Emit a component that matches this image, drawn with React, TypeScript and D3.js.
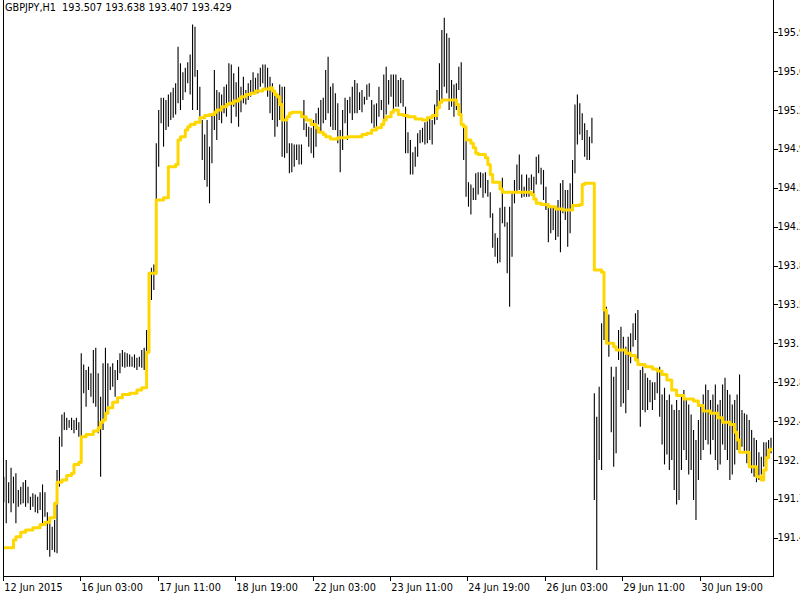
import * as d3 from 'd3';

// header line of the chart window
const chartTitle = 'GBPJPY,H1  193.507 193.638 193.407 193.429';

// hourly bars, high and low
const barHigh = [
  191.95, 192.10, 191.90, 192.03, 191.95, 191.98, 191.83, 191.86, 191.90, 191.92,
  191.86, 191.77, 191.80, 191.79, 191.77, 191.81, 191.88, 191.81, 191.63, 191.53,
  191.50, 191.56, 192.01, 192.31, 192.51, 192.53, 192.48, 192.46, 192.48, 192.46,
  192.48, 192.44, 193.06, 192.96, 192.91, 192.94, 192.88, 193.09, 193.11, 192.88,
  192.67, 192.97, 193.11, 192.97, 192.94, 192.97, 192.91, 193.00, 193.06, 193.09,
  193.07, 193.06, 193.05, 193.03, 193.05, 193.02, 193.03, 193.09, 193.11, 193.27,
  193.77, 193.83, 193.86, 194.95, 195.25, 195.36, 195.36, 195.34, 195.39, 195.41,
  195.45, 195.49, 195.82, 195.67, 195.59, 195.63, 195.68, 195.75, 196.02, 196.00,
  195.61, 195.46, 195.16, 195.03, 195.16, 194.92, 195.22, 195.61, 195.43, 195.41,
  195.39, 195.46, 195.48, 195.67, 195.66, 195.58, 195.50, 195.64, 195.46, 195.55,
  195.43, 195.49, 195.52, 195.59, 195.54, 195.58, 195.63, 195.66, 195.66, 195.63,
  195.55, 195.49, 195.43, 195.37, 195.48, 195.46, 195.46, 195.19, 194.95, 194.95,
  194.94, 194.94, 194.94, 194.94, 195.34, 195.13, 195.10, 195.09, 195.16, 195.22,
  195.27, 195.34, 195.36, 195.61, 195.73, 195.46, 195.49, 195.40, 195.31, 195.07,
  195.25, 195.36, 195.34, 195.37, 195.46, 195.52, 195.49, 195.41, 195.43, 195.37,
  195.48, 195.49, 195.34, 195.30, 195.31, 195.46, 195.34, 195.57, 195.64, 195.52,
  195.57, 195.57, 195.57, 195.52, 195.54, 195.52, 195.28, 195.05, 194.98, 194.87,
  194.92, 195.04, 195.07, 195.09, 195.14, 195.19, 195.18, 195.16, 195.30, 195.43,
  195.67, 195.97, 196.08, 195.94, 195.90, 195.52, 195.48, 195.49, 195.64, 195.68,
  195.10, 194.98, 194.60, 194.58, 194.55, 194.68, 194.69, 194.69, 194.68, 194.69,
  194.62, 194.51, 194.32, 194.14, 194.10, 194.37, 194.64, 194.38, 194.24, 194.38,
  194.50, 194.62, 194.76, 194.85, 194.67, 194.56, 194.67, 194.64, 194.67, 194.65,
  194.83, 194.85, 194.73, 194.71, 194.56, 194.41, 194.38, 194.37, 194.38, 194.44,
  194.59, 194.62, 194.53, 194.53, 194.59, 194.80, 195.30, 195.39, 195.31, 195.22,
  195.13, 195.07, 195.01, 195.18, 192.70, 192.49, 192.76, 193.33, 193.52, 193.48,
  193.41, 192.94, 192.85, 192.94, 193.27, 193.30, 193.21, 193.12, 193.21, 193.24,
  193.33, 193.42, 193.45, 192.91, 192.94, 192.88, 192.84, 192.82, 192.80, 192.80,
  192.91, 192.94, 192.69, 192.75, 192.64, 192.69, 192.60, 192.55, 192.64, 192.55,
  192.69, 192.73, 192.64, 192.60, 192.51, 192.37, 192.28, 192.46, 192.60, 192.69,
  192.78, 192.73, 192.64, 192.69, 192.78, 192.60, 192.64, 192.78, 192.84, 192.73,
  192.69, 192.60, 192.64, 192.69, 192.87, 192.55, 192.52, 192.51, 192.46, 192.37,
  192.30, 192.28, 192.17, 192.13, 192.26, 192.26, 192.28, 192.30,
];

const barLow = [
  191.72, 191.53, 191.71, 191.63, 191.71, 191.53, 191.68, 191.70, 191.71, 191.68,
  191.71, 191.65, 191.68, 191.63, 191.62, 191.65, 191.53, 191.59, 191.29, 191.23,
  191.29, 191.27, 191.26, 191.86, 192.22, 192.37, 192.37, 192.39, 192.37, 192.34,
  192.37, 192.31, 192.28, 192.70, 192.58, 192.73, 192.67, 192.61, 192.58, 192.34,
  191.95, 192.37, 192.49, 192.58, 192.73, 192.76, 192.67, 192.82, 192.88, 192.94,
  192.93, 192.94, 192.94, 192.94, 192.93, 192.91, 192.94, 192.93, 192.91, 193.06,
  193.09, 193.54, 193.63, 193.77, 194.74, 195.13, 194.92, 195.07, 195.10, 195.16,
  195.18, 195.21, 195.31, 195.25, 195.34, 195.41, 195.49, 195.39, 195.25, 195.55,
  195.25, 195.19, 194.80, 194.62, 194.56, 194.41, 194.77, 195.07, 194.98, 195.16,
  195.13, 195.22, 195.19, 195.31, 195.13, 195.28, 195.19, 195.10, 195.23, 195.31,
  195.30, 195.34, 195.37, 195.40, 195.41, 195.40, 195.46, 195.49, 195.43, 195.37,
  195.22, 195.16, 195.01, 195.10, 195.16, 194.83, 194.82, 194.86, 194.68, 194.69,
  194.74, 194.80, 194.76, 194.76, 195.07, 195.01, 194.92, 194.86, 194.82, 194.92,
  195.12, 195.05, 195.13, 195.16, 195.22, 195.10, 195.07, 195.07, 194.95, 194.69,
  194.89, 195.13, 194.98, 195.22, 195.16, 195.22, 195.22, 195.25, 195.23, 195.30,
  195.34, 195.37, 195.13, 195.09, 195.10, 195.19, 195.25, 195.16, 195.21, 195.30,
  195.37, 195.25, 195.28, 195.28, 195.31, 195.28, 194.86, 194.86, 194.67, 194.67,
  194.74, 194.83, 194.95, 194.96, 194.94, 194.95, 194.98, 194.94, 195.12, 195.16,
  195.31, 195.34, 195.46, 195.40, 195.25, 195.28, 195.19, 195.25, 195.43, 195.19,
  194.80, 194.47, 194.38, 194.31, 194.44, 194.44, 194.49, 194.55, 194.46, 194.50,
  194.47, 194.28, 194.01, 193.93, 193.87, 193.88, 194.23, 194.20, 193.78, 193.48,
  193.93, 194.41, 194.50, 194.53, 194.46, 194.47, 194.47, 194.47, 194.53, 194.47,
  194.58, 194.68, 194.58, 194.44, 194.35, 194.06, 194.14, 194.17, 194.08, 194.11,
  193.97, 194.32, 194.26, 194.02, 194.14, 194.40, 194.68, 194.94, 195.03, 194.98,
  194.83, 194.80, 194.80, 194.95, 191.74, 191.11, 192.10, 192.01, 193.18, 193.27,
  193.03, 192.35, 192.04, 192.16, 193.00, 192.58, 192.61, 192.52, 192.73, 192.97,
  193.12, 193.18, 192.97, 192.40, 192.55, 192.53, 192.55, 192.62, 192.55, 192.64,
  192.70, 192.49, 192.24, 192.06, 192.15, 192.01, 192.10, 191.83, 191.70, 191.74,
  192.01, 192.19, 192.10, 191.97, 192.01, 191.74, 191.56, 191.92, 192.10, 192.19,
  192.28, 192.24, 192.15, 192.28, 192.10, 192.01, 192.06, 192.24, 192.19, 192.10,
  191.92, 191.97, 192.06, 192.19, 192.28, 192.22, 192.17, 192.07, 192.10, 191.98,
  191.95, 191.90, 191.92, 191.97, 192.04, 192.12, 192.16, 192.16,
];

// yellow step indicator: bar index where the value changes, and the new value
const maBar = [
  0, 4, 5, 7, 9, 12, 15, 17, 19, 21, 22, 24, 26, 28, 29, 31, 32, 34, 37, 39,
  40, 41, 42, 43, 45, 47, 49, 52, 55, 57, 59, 60, 63, 66, 68, 71, 72, 73, 75, 76,
  77, 79, 81, 83, 85, 87, 88, 90, 92, 93, 95, 97, 98, 100, 102, 104, 107, 110, 111, 112,
  113, 114, 115, 117, 118, 119, 123, 125, 127, 129, 130, 132, 133, 135, 138, 142, 148, 150, 152, 154,
  156, 157, 158, 160, 161, 163, 165, 167, 170, 173, 175, 177, 179, 180, 181, 187, 188, 189, 190, 191,
  193, 194, 195, 196, 199, 200, 201, 202, 205, 206, 218, 219, 220, 222, 225, 228, 231, 235, 238, 239,
  240, 244, 247, 248, 249, 252, 253, 257, 259, 261, 262, 265, 268, 270, 272, 274, 276, 278, 281, 285,
  287, 289, 292, 295, 297, 300, 302, 303, 304, 308, 311, 313, 314, 315, 316, 317,
];
const maValue = [
  191.31, 191.38, 191.41, 191.45, 191.47, 191.49, 191.52, 191.54, 191.58, 191.71, 191.90, 191.92, 191.96, 191.98, 192.06, 192.08, 192.31, 192.33, 192.36, 192.39,
  192.44, 192.46, 192.52, 192.57, 192.62, 192.66, 192.69, 192.70, 192.73, 192.75, 193.07, 193.78, 194.44, 194.46, 194.74, 194.76, 194.98, 195.01, 195.07, 195.10,
  195.12, 195.14, 195.18, 195.20, 195.21, 195.23, 195.25, 195.28, 195.30, 195.31, 195.33, 195.35, 195.37, 195.39, 195.40, 195.42, 195.44, 195.45, 195.42, 195.39,
  195.37, 195.30, 195.16, 195.19, 195.22, 195.23, 195.19, 195.16, 195.12, 195.09, 195.05, 195.03, 195.01, 194.99, 195.00, 195.01, 195.03, 195.04, 195.07, 195.09,
  195.12, 195.16, 195.19, 195.23, 195.25, 195.21, 195.20, 195.19, 195.17, 195.16, 195.18, 195.20, 195.27, 195.32, 195.34, 195.30, 195.21, 195.12, 195.10, 194.98,
  194.95, 194.91, 194.86, 194.85, 194.82, 194.76, 194.67, 194.60, 194.54, 194.51, 194.49, 194.45, 194.41, 194.40, 194.38, 194.36, 194.35, 194.39, 194.40, 194.58,
  194.59, 193.81, 193.79, 193.45, 193.15, 193.12, 193.09, 193.06, 193.04, 193.00, 192.96, 192.94, 192.92, 192.90, 192.87, 192.82, 192.73, 192.68, 192.65, 192.63,
  192.59, 192.54, 192.52, 192.48, 192.44, 192.42, 192.35, 192.28, 192.17, 192.04, 191.95, 191.92, 192.01, 192.12, 192.19, 192.21,
];

// time axis: labels every 32 bars
const timeLabels = [
  '12 Jun 2015', '16 Jun 03:00', '17 Jun 11:00', '18 Jun 19:00', '22 Jun 03:00',
  '23 Jun 11:00', '24 Jun 19:00', '26 Jun 03:00', '29 Jun 11:00', '30 Jun 19:00',
];
const timeLabelBar = [0, 32, 64, 96, 128, 160, 192, 224, 256, 288];

// price axis
const priceTicks = [
  195.95, 195.6, 195.25, 194.9, 194.55, 194.2, 193.85, 193.5, 193.15, 192.8,
  192.45, 192.1, 191.75, 191.4,
];

export default function App() {
  const width = 800;
  const height = 600;
  const frameLeft = 3.5;
  const frameRight = 773.5;
  const frameBottom = 576.5;
  const font = '"DejaVu Sans", Verdana, sans-serif';

  const x = d3.scaleLinear().domain([0, barHigh.length - 1]).range([3.8, 771]);
  const y = d3.scaleLinear().domain([196.24, 190.84]).range([0, 600]);

  const maPoints: [number, number][] = maBar.map((b, i) => [b, maValue[i]]);
  const maLine = d3
    .line<[number, number]>()
    .x((d) => x(d[0]))
    .y((d) => y(d[1]))
    .curve(d3.curveStepAfter);

  return (
    <div style={{ position: 'absolute', left: 0, top: 0 }}>
      <svg width={width} height={height} style={{ display: 'block', background: '#fff' }}>
        {/* bars */}
        <g stroke="#000" strokeWidth={1.1}>
          {barHigh.map((h, i) => (
            <line key={i} x1={x(i)} x2={x(i)} y1={y(h)} y2={y(barLow[i])} />
          ))}
        </g>

        {/* indicator */}
        <path d={maLine(maPoints) || ''} fill="none" stroke="#FFD700" strokeWidth={3} strokeLinejoin="round" />

        {/* frame */}
        <g stroke="#000" strokeWidth={1} shapeRendering="crispEdges">
          <line x1={frameLeft} x2={frameLeft} y1={0} y2={frameBottom} />
          <line x1={frameRight} x2={frameRight} y1={0} y2={frameBottom} />
          <line x1={frameLeft} x2={frameRight} y1={frameBottom} y2={frameBottom} />
        </g>

        {/* price axis */}
        <g fontFamily={font} fontSize={9.7} fill="#000">
          {priceTicks.map((p) => (
            <g key={p}>
              <line x1={frameRight} x2={frameRight + 4} y1={Math.round(y(p)) + 0.5} y2={Math.round(y(p)) + 0.5} stroke="#000" shapeRendering="crispEdges" />
              <text x={frameRight + 4} y={y(p) + 3.6}>{p.toFixed(3)}</text>
            </g>
          ))}
        </g>

        {/* time axis */}
        <g fontFamily={font} fontSize={9.7} fill="#000">
          {timeLabelBar.map((b, i) => {
            const tx = i === 0 ? frameLeft : Math.round(x(b)) - 0.5;
            return (
              <g key={b}>
                <line x1={tx} x2={tx} y1={frameBottom} y2={frameBottom + 4} stroke="#000" shapeRendering="crispEdges" />
                <text x={tx + 0.8} y={591}>{timeLabels[i]}</text>
              </g>
            );
          })}
        </g>

        {/* header */}
        <text x={5} y={10.5} fontFamily={font} fontSize={9.7} fill="#000" style={{ whiteSpace: 'pre' }}>
          {chartTitle}
        </text>
      </svg>
    </div>
  );
}
